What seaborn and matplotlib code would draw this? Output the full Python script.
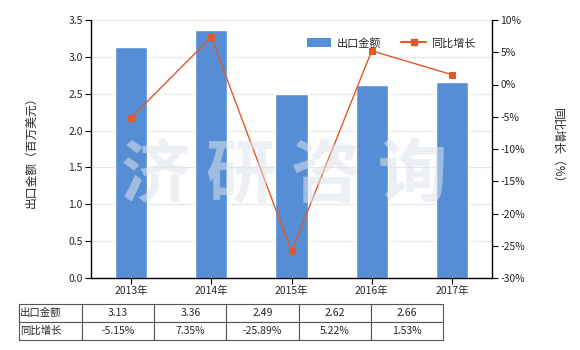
import matplotlib
matplotlib.use("Agg")
import matplotlib.pyplot as plt
from matplotlib.patches import Patch
from matplotlib.lines import Line2D
import seaborn as sns
import pandas as pd

years = ["2013年", "2014年", "2015年", "2016年", "2017年"]
export_values = [3.13, 3.36, 2.49, 2.62, 2.66]
growth_pct = [-5.15, 7.35, -25.89, 5.22, 1.53]
export_labels = ["3.13", "3.36", "2.49", "2.62", "2.66"]
growth_labels = ["-5.15%", "7.35%", "-25.89%", "5.22%", "1.53%"]

sns.set_theme(style="white")
plt.rcParams["font.family"] = ["Noto Sans CJK SC", "DejaVu Sans"]
plt.rcParams["axes.unicode_minus"] = False

BAR = "#558ED5"
LINE = "#E0592A"
W, H = 580, 350

fig = plt.figure(figsize=(W / 100, H / 100), dpi=100)
ax = fig.add_axes([91 / W, 1 - 278 / H, (492 - 91) / W, (278 - 20) / H])

df = pd.DataFrame({"year": years, "value": export_values, "growth": growth_pct})
sns.barplot(data=df, x="year", y="value", color=BAR, saturation=1, width=0.4, ax=ax, zorder=2)
ax.set_ylim(0, 3.5)
ax.set_yticks([0, 0.5, 1.0, 1.5, 2.0, 2.5, 3.0, 3.5])
ax.set_yticklabels([f"{v:.1f}" for v in ax.get_yticks()])
ax.set_xlim(-0.5, 4.5)
ax.yaxis.grid(True, color="#E6E6E6", linewidth=0.8, zorder=0)
ax.set_axisbelow(True)
ax.set_xlabel("")
ax.set_ylabel("出口金额（百万美元）", fontsize=8.5, labelpad=22)
for s in ["top", "right"]:
    ax.spines[s].set_visible(False)
for s in ["left", "bottom"]:
    ax.spines[s].set_color("black")
    ax.spines[s].set_linewidth(1)
ax.tick_params(axis="both", labelsize=7.5, length=4, width=0.8, color="black", direction="out",
               left=True, bottom=True, pad=2)

ax2 = ax.twinx()
sns.lineplot(data=df, x="year", y="growth", color=LINE, marker="s", markersize=5,
             markeredgecolor=LINE, linewidth=1, ax=ax2, zorder=3, legend=False)
ax2.set_ylim(-30, 10)
ax2.set_yticks(range(-30, 11, 5))
ax2.set_yticklabels([f"{v}%" for v in range(-30, 11, 5)])
ax2.set_ylabel("同比增长（%）", fontsize=8.5, rotation=270, labelpad=28)
for s in ["top", "left", "bottom"]:
    ax2.spines[s].set_visible(False)
ax2.spines["right"].set_color("black")
ax2.spines["right"].set_linewidth(1)
ax2.tick_params(axis="y", labelsize=7.5, length=4, width=0.8, color="black", direction="out", right=True, pad=2)
ax2.set_xlim(-0.5, 4.5)

handles = [Patch(facecolor=BAR, edgecolor="none"),
           Line2D([0], [0], color=LINE, marker="s", markersize=4, linewidth=1.5)]
ax2.legend(handles, ["出口金额", "同比增长"], loc="upper right", bbox_to_anchor=(0.985, 0.97), ncol=2,
           frameon=False, fontsize=8, handlelength=2.2, handleheight=0.9, columnspacing=1.8,
           handletextpad=0.5)

# watermark
for ch, xc in zip("济研咨询", [155, 240, 325, 412]):
    fig.text(xc / W, 1 - 177 / H, ch, fontsize=50, color="#DDE3EA", alpha=0.55, ha="center",
             va="center", fontweight="bold", zorder=10)

# table
tab_ax = fig.add_axes([19 / W, 1 - 340 / H, (443 - 19) / W, (340 - 304) / H])
tab_ax.axis("off")
cell_text = [["出口金额"] + export_labels, ["同比增长"] + growth_labels]
tbl = tab_ax.table(cellText=cell_text, bbox=[0, 0, 1, 1],
                   colWidths=[63] + [72.2] * 5, cellLoc="center")
tbl.auto_set_font_size(False)
tbl.set_fontsize(7.5)
for (r, c), cell in tbl.get_celld().items():
    cell.set_edgecolor("#555555")
    cell.set_linewidth(0.8)
    if c == 0:
        cell.set_text_props(ha="left")
        cell.PAD = 0.02

fig.savefig("out.png", dpi=100)
